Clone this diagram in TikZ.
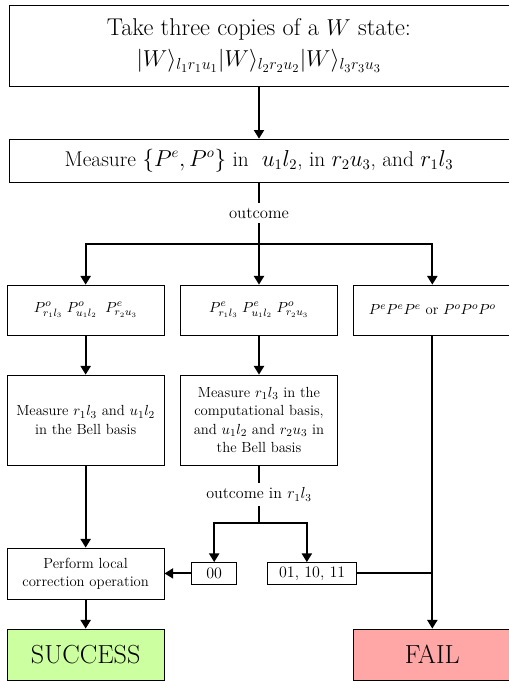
\documentclass[tikz,border=0pt]{standalone}
\usepackage{amsmath}
\usepackage{amssymb}
\usetikzlibrary{arrows.meta,calc}

\definecolor{succgreen}{HTML}{CCFFA0}
\definecolor{failred}{HTML}{FFA6A6}

\begin{document}
\begin{tikzpicture}[node distance=130pt,>={Triangle[length=6.5pt,width=7.5pt]},
  every node/.style={align=center,font=\fontsize{11}{13.7}\selectfont},
  block/.style={draw,line width=0.5pt,minimum width=117.75pt,inner sep=2pt},
  wide/.style={block,minimum width=375pt},
  tag/.style={draw,line width=0.5pt,minimum height=16.5pt,inner sep=2pt,font=\fontsize{12}{14}\selectfont},
  flow/.style={line width=1.5pt}]
  \useasboundingbox (-194.25pt,34.125pt) rectangle (187.5pt,-478.125pt);

  \node[wide,minimum height=60.75pt,font=\fontsize{18.2}{23}\selectfont] (take) {Take three copies of a $W$ state:\\ $|W\rangle_{l_1r_1u_1}|W\rangle_{l_2r_2u_2}|W\rangle_{l_3r_3u_3}$};
  \node[wide,minimum height=32.25pt,font=\fontsize{16}{19}\selectfont] (meas) [below of=take,node distance=86.25pt] {Measure $\{P^e, P^o\}$ in~ $u_1l_2$, in $r_2u_3$, and $r_1l_3$};
  \node[block,minimum height=37.5pt] (ee)    [below of=meas,node distance=112.1pt] {$P^e_{r_1l_3}\;P^e_{u_1l_2}\;P^o_{r_2u_3}$};
  \node[block,minimum height=37.5pt] (oo)    [left of=ee]                     {$P^o_{r_1l_3}\;P^o_{u_1l_2}\;\;P^e_{r_2u_3}$};
  \node[block,minimum height=37.5pt] (same)  [right of=ee]                    {$P^eP^eP^e$ or $P^oP^oP^o$};
  \node[block,minimum height=67.5pt] (bell)  [below of=oo,node distance=82.5pt] {Measure $r_1l_3$ and $u_1l_2$\\ in the Bell basis};
  \node[block,minimum height=67.5pt] (comp)  [below of=ee,node distance=82.5pt] {Measure $r_1l_3$ in the\\ computational basis,\\ and $u_1l_2$ and $r_2u_3$ in\\ the Bell basis};
  \node[block,minimum height=38.25pt] (corr) [below of=bell,node distance=115.1pt] {Perform local\\ correction operation};
  \node[tag,minimum width=33.75pt]   (zz)    [right of=corr,node distance=96.4pt] {00};
  \node[tag,minimum width=66.75pt]   (rest)  [right of=zz,node distance=73.5pt]   {01, 10, 11};
  \node[block,minimum height=38.25pt,fill=succgreen,font=\fontsize{19.6}{23}\selectfont] (succ) [below of=corr,node distance=60.75pt] {SUCCESS};
  \node[block,minimum height=38.25pt,fill=failred,font=\fontsize{19.6}{23}\selectfont]   (fail) [right of=succ,node distance=260pt] {FAIL};

  \coordinate (split)  at ($(ee.north)+(0,30.75pt)$);
  \coordinate (split2) at ($(comp.south)+(0,-43.5pt)$);

  \draw[flow,->] (take) -- (meas);
  \draw[flow]    (meas) -- node[fill=white,font=\fontsize{12.5}{15}\selectfont] {outcome} (split);
  \draw[flow,->] (split) -| (oo);
  \draw[flow,->] (split) -- (ee);
  \draw[flow,->] (split) -| (same);
  \draw[flow,->] (oo) -- (bell);
  \draw[flow,->] (ee) -- (comp);
  \draw[flow,->] (bell) -- (corr);
  \draw[flow,->] (corr) -- (succ);
  \draw[flow]    (comp) -- node[fill=white,font=\fontsize{12}{14}\selectfont] {outcome in $r_1l_3$} (split2);
  \draw[flow,->] (split2) -| (zz);
  \draw[flow,->] (split2) -| ([xshift=-4pt]rest.north);
  \draw[flow,->] (zz) -- (corr);
  \draw[flow]    (rest) -- (rest -| same);
  \draw[flow,->] (same) -- (fail);
\end{tikzpicture}
\end{document}
